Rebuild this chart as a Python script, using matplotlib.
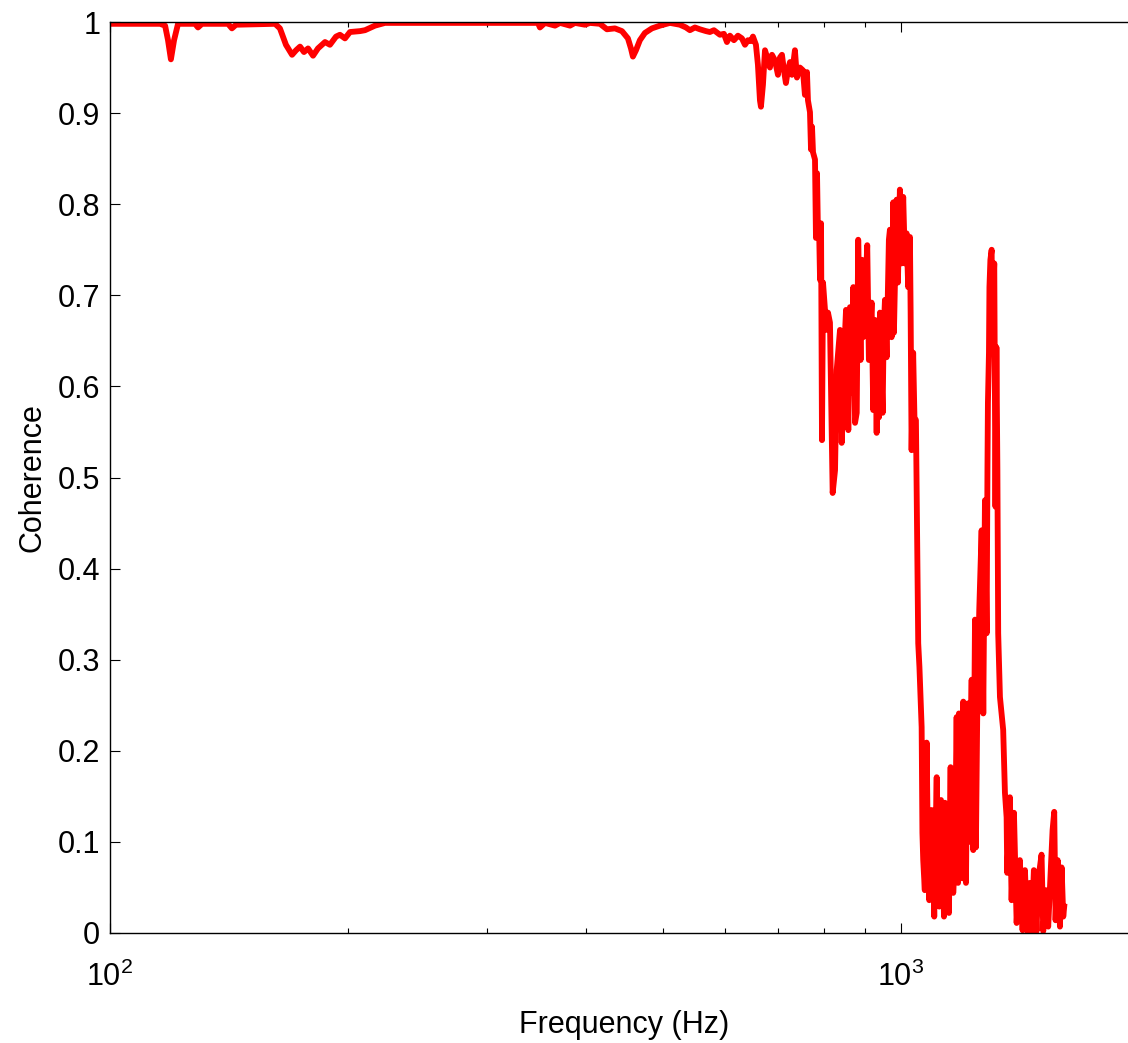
import matplotlib
matplotlib.use('Agg')
import matplotlib.pyplot as plt
from matplotlib.ticker import FixedLocator, FormatStrFormatter, LogLocator, NullFormatter

# frequency (Hz) and coherence, left to right
freq_flat = [100.0, 109.1, 115.7, 117.4, 118.4, 119.4, 120.5, 121.9, 128.1, 129.2, 130.7,
             141.0, 142.6, 144.3, 161.7, 164.0, 166.9, 169.9, 171.9, 173.9, 175.9, 178.0,
             180.6, 183.2, 187.0, 189.7, 193.1, 195.3, 198.2, 201.1, 207.1, 210.1, 216.3,
             222.7, 246.5, 285.2, 347.6, 349.6, 354.8, 365.3, 370.7, 381.6, 387.2, 398.6,
             404.4, 416.4, 424.9, 434.9, 443.9, 451.7, 455.7, 458.3, 462.4, 467.7, 474.6,
             484.4, 495.8, 510.5, 525.5, 534.8, 541.0, 549.0, 557.0, 566.9, 573.4, 580.2,
             590.4, 597.3, 602.6, 607.9, 615.0, 622.2, 629.5, 635.1, 640.6, 646.2, 650.0,
             655.7, 659.5, 663.4, 665.3, 669.2, 673.2, 679.1, 683.0, 687.0, 693.0, 699.1,
             703.1, 707.3, 711.4, 715.5, 719.7, 724.0, 728.2, 734.5, 738.8, 745.3, 751.8,
             756.2, 760.7]
coh_flat = [0.998, 0.998, 0.998, 0.996, 0.980, 0.959, 0.980, 0.998, 0.998, 0.994, 0.998,
            0.998, 0.993, 0.997, 0.998, 0.993, 0.975, 0.964, 0.969, 0.973, 0.967, 0.971,
            0.963, 0.971, 0.978, 0.975, 0.984, 0.986, 0.982, 0.989, 0.990, 0.991, 0.996,
            0.999, 0.999, 0.999, 0.999, 0.994, 0.999, 0.996, 0.999, 0.996, 0.999, 0.997,
            0.999, 0.998, 0.992, 0.993, 0.990, 0.982, 0.971, 0.962, 0.969, 0.980, 0.988,
            0.993, 0.996, 0.999, 0.997, 0.994, 0.991, 0.994, 0.992, 0.990, 0.989, 0.991,
            0.986, 0.987, 0.978, 0.985, 0.980, 0.985, 0.982, 0.975, 0.980, 0.979, 0.984,
            0.975, 0.953, 0.914, 0.907, 0.931, 0.969, 0.958, 0.950, 0.964, 0.958, 0.942,
            0.961, 0.964, 0.947, 0.933, 0.947, 0.956, 0.942, 0.969, 0.939, 0.950, 0.947,
            0.920, 0.945]

freq_drop = [762.9, 767.4, 769.7, 772.0, 774.2, 778.7, 780.9, 783.3, 785.6, 787.8, 790.2,
             792.5, 794.7, 797.1, 801.7, 804.1, 808.7, 813.4, 819.8, 825.5, 829.5, 837.5,
             841.6, 844.9, 848.0, 852.3, 858.0, 862.2, 866.0, 870.6, 875.0, 879.3, 883.1,
             889.2, 892.7, 896.0, 901.5, 906.6, 911.0, 918.2, 922.6, 927.1, 931.8, 935.0,
             938.0, 940.8, 948.2, 951.0, 954.6, 959.2, 965.6, 968.5, 973.2, 977.9, 979.9,
             984.0, 987.6, 991.3, 997.0, 1002.1, 1006.7, 1011.8, 1016.7, 1021.4, 1026.6,
             1028.7, 1031.6, 1036.3, 1040.2, 1044.7, 1047.6]
coh_drop = [0.914, 0.901, 0.860, 0.885, 0.857, 0.849, 0.763, 0.834, 0.764, 0.779, 0.717,
            0.779, 0.541, 0.714, 0.684, 0.662, 0.681, 0.670, 0.483, 0.508, 0.618, 0.662,
            0.538, 0.593, 0.640, 0.684, 0.552, 0.687, 0.593, 0.709, 0.560, 0.571, 0.761,
            0.629, 0.739, 0.654, 0.700, 0.755, 0.629, 0.692, 0.574, 0.673, 0.549, 0.640,
            0.566, 0.681, 0.571, 0.660, 0.695, 0.632, 0.761, 0.772, 0.654, 0.802, 0.659,
            0.740, 0.805, 0.714, 0.816, 0.735, 0.808, 0.735, 0.768, 0.709, 0.764,
            0.681, 0.530, 0.637, 0.566, 0.563, 0.464]

freq_tail = [1051.7, 1055.4, 1062.2, 1064.6, 1067.1, 1072.0, 1077.8, 1081.0, 1086.0, 1093.5,
             1101.9, 1105.5, 1109.8, 1113.0, 1114.8, 1118.0, 1123.7, 1126.5, 1129.0, 1133.6,
             1136.7, 1142.0, 1144.3, 1150.1, 1155.7, 1158.0, 1160.5, 1164.5, 1170.4, 1176.1,
             1181.0, 1184.0, 1190.0, 1193.0, 1196.0, 1199.1, 1204.0, 1208.5, 1214.4, 1218.0,
             1222.5, 1228.7, 1231.0, 1234.4, 1240.7, 1244.0, 1249.0, 1256.2, 1264.9, 1271.0,
             1277.2, 1283.4, 1286.6, 1288.3, 1292.2, 1294.0, 1297.6, 1302.4, 1304.5, 1307.2,
             1312.3, 1314.7, 1316.9, 1320.5, 1324.3, 1327.4, 1334.2, 1346.8, 1353.7, 1360.3,
             1362.8, 1373.5, 1380.2, 1389.7, 1400.6, 1413.9, 1425.0, 1434.9, 1444.5, 1455.8,
             1462.9, 1472.7, 1484.3, 1491.2, 1506.0, 1513.3, 1525.2, 1535.4, 1546.1, 1555.1,
             1562.6, 1568.7, 1578.2, 1588.8, 1596.5, 1604.2, 1608.7]
coh_tail = [0.318, 0.292, 0.226, 0.110, 0.080, 0.047, 0.209, 0.110, 0.036, 0.135,
            0.018, 0.094, 0.171, 0.040, 0.116, 0.029, 0.146, 0.060, 0.090, 0.018,
            0.143, 0.030, 0.121, 0.022, 0.182, 0.060, 0.120, 0.044, 0.083, 0.237,
            0.055, 0.241, 0.102, 0.200, 0.060, 0.254, 0.120, 0.055, 0.252, 0.100,
            0.182, 0.278, 0.200, 0.091, 0.344, 0.094, 0.245, 0.355, 0.442, 0.241,
            0.475, 0.329, 0.512, 0.582, 0.637, 0.709, 0.739, 0.750, 0.637, 0.695,
            0.735, 0.585, 0.468, 0.643, 0.508, 0.329, 0.259, 0.223, 0.154, 0.127,
            0.066, 0.149, 0.036, 0.132, 0.011, 0.080, 0.003, 0.069, 0.002, 0.055,
            0.002, 0.069, 0.002, 0.058, 0.086, 0.002, 0.047, 0.007, 0.066, 0.113,
            0.133, 0.014, 0.080, 0.007, 0.072, 0.018, 0.029]

y_ticks = [0, 0.1, 0.2, 0.3, 0.4, 0.5, 0.6, 0.7, 0.8, 0.9, 1]


def main():
    plt.rcParams['font.family'] = ['Liberation Sans', 'DejaVu Sans']
    plt.rcParams['mathtext.fontset'] = 'custom'
    plt.rcParams['mathtext.rm'] = 'Liberation Sans'
    plt.rcParams['mathtext.it'] = 'Liberation Sans:italic'

    W, H = 1128, 1043
    fig = plt.figure(figsize=(W / 100, H / 100), dpi=100)
    # axes box runs a little past the right edge of the picture (as in the original)
    ax = fig.add_axes([110 / W, 110 / H, (1139 - 110) / W, 911 / H])

    freq = freq_flat + freq_drop + freq_tail
    coh = coh_flat + coh_drop + coh_tail
    ax.plot(freq, coh, color='#ff0000', linewidth=4.2, solid_joinstyle='round')

    ax.set_xscale('log')
    ax.set_xlim(100, 2000)
    ax.set_ylim(0, 1)
    ax.yaxis.set_major_locator(FixedLocator(y_ticks))
    ax.yaxis.set_major_formatter(FormatStrFormatter('%g'))
    ax.xaxis.set_minor_locator(LogLocator(base=10, subs=range(2, 10)))
    ax.xaxis.set_minor_formatter(NullFormatter())

    ax.tick_params(which='both', direction='in', top=True, right=True, width=0.8)
    ax.tick_params(which='major', length=7, labelsize=22)
    ax.tick_params(which='minor', length=3.6)
    ax.tick_params(axis='y', pad=7)
    ax.tick_params(axis='x', pad=21)
    for sp in ax.spines.values():
        sp.set_linewidth(1.0)

    ax.set_xlabel('Frequency (Hz)', fontsize=22)
    ax.set_ylabel('Coherence', fontsize=22)
    ax.xaxis.set_label_coords(0.5, -0.085)
    ax.yaxis.set_label_coords(-0.061, 0.5)

    fig.savefig('out.png', dpi=100)


if __name__ == '__main__':
    main()
